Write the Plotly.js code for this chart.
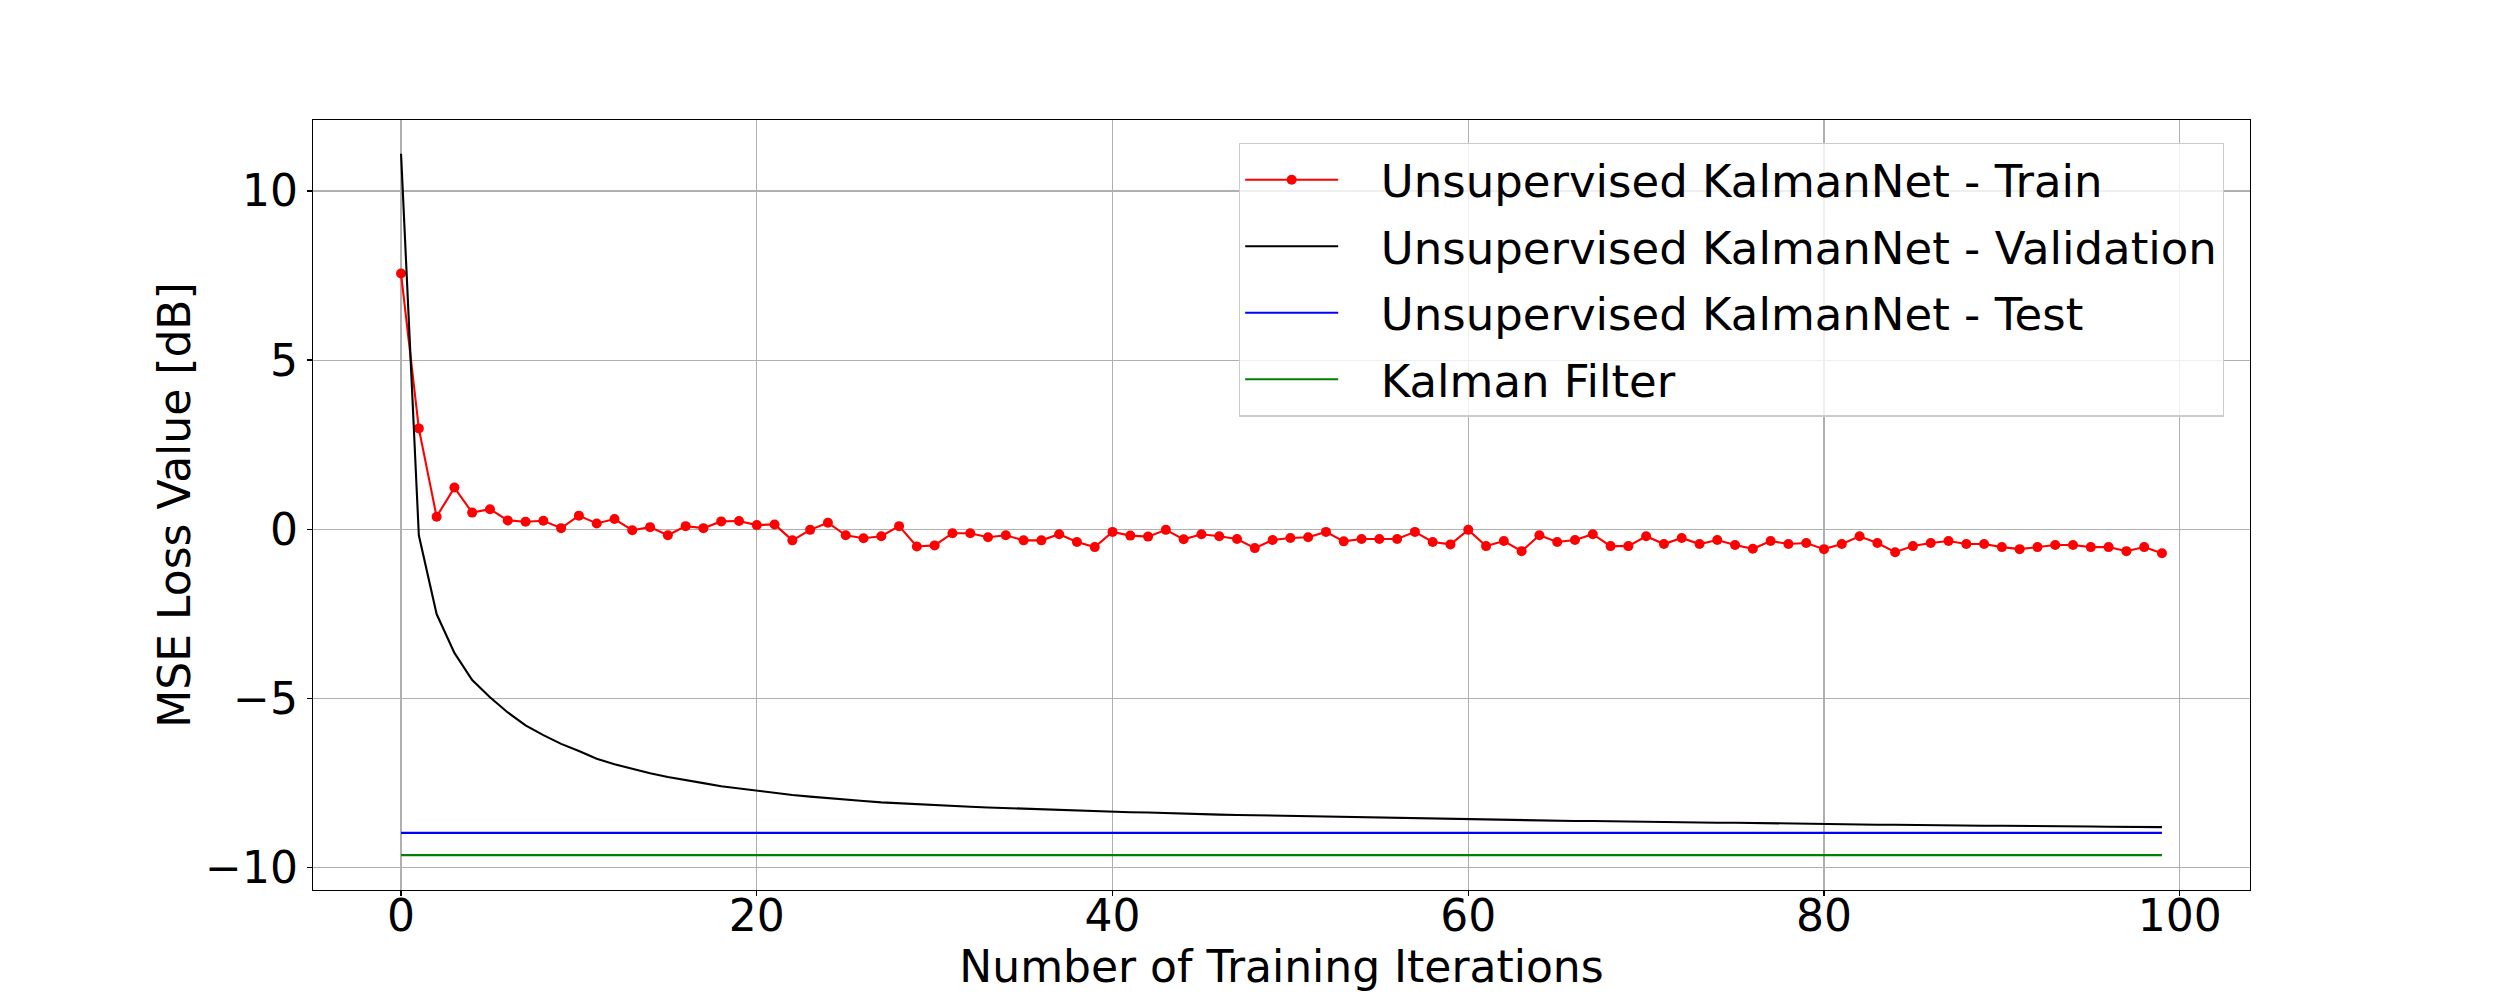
<!DOCTYPE html>
<html>
<head>
<meta charset="utf-8">
<script src="https://cdn.plot.ly/plotly-3.0.1.min.js"></script>
<style>
  html, body { margin: 0; padding: 0; background: #ffffff; }
  #chart { width: 2500px; height: 1000px; }
</style>
</head>
<body>
<div id="chart"></div>
<script>
// ---- data ----
const iterations = Array.from({length: 100}, (_, i) => i);

const trainLoss = [
  7.56, 2.98, 0.37, 1.23, 0.49, 0.59, 0.26, 0.22, 0.25, 0.03,
  0.40, 0.17, 0.30, -0.03, 0.06, -0.18, 0.09, 0.03, 0.23, 0.24,
  0.12, 0.14, -0.33, -0.02, 0.19, -0.18, -0.27, -0.21, 0.09, -0.51,
  -0.48, -0.12, -0.12, -0.24, -0.18, -0.33, -0.33, -0.15, -0.38, -0.53,
  -0.08, -0.19, -0.22, -0.02, -0.30, -0.15, -0.21, -0.29, -0.56, -0.32,
  -0.26, -0.24, -0.08, -0.36, -0.29, -0.29, -0.29, -0.08, -0.38, -0.45,
  -0.02, -0.50, -0.35, -0.65, -0.18, -0.38, -0.32, -0.15, -0.50, -0.50,
  -0.21, -0.44, -0.26, -0.44, -0.32, -0.47, -0.58, -0.35, -0.44, -0.41,
  -0.59, -0.44, -0.21, -0.41, -0.68, -0.50, -0.41, -0.35, -0.44, -0.44,
  -0.53, -0.59, -0.53, -0.47, -0.47, -0.53, -0.53, -0.65, -0.53, -0.71
];

const validationLoss = [
  11.10, -0.18, -2.51, -3.66, -4.46, -4.97, -5.42, -5.80, -6.09, -6.35,
  -6.56, -6.79, -6.95, -7.09, -7.22, -7.33, -7.43, -7.51, -7.60, -7.67,
  -7.74, -7.80, -7.86, -7.91, -7.96, -8.00, -8.04, -8.08, -8.11, -8.14,
  -8.16, -8.19, -8.21, -8.23, -8.25, -8.27, -8.29, -8.31, -8.32, -8.34,
  -8.35, -8.37, -8.38, -8.40, -8.41, -8.43, -8.44, -8.45, -8.46, -8.48,
  -8.49, -8.50, -8.51, -8.51, -8.52, -8.53, -8.54, -8.55, -8.56, -8.56,
  -8.57, -8.58, -8.59, -8.60, -8.61, -8.62, -8.63, -8.63, -8.64, -8.64,
  -8.65, -8.66, -8.66, -8.67, -8.68, -8.68, -8.69, -8.70, -8.70, -8.71,
  -8.72, -8.72, -8.73, -8.74, -8.74, -8.75, -8.75, -8.76, -8.76, -8.77,
  -8.77, -8.77, -8.78, -8.78, -8.79, -8.79, -8.80, -8.80, -8.80, -8.81
];

const testLoss = -8.98;          // constant level of the test curve
const kalmanFilterLoss = -9.64;  // constant level of the Kalman filter

const seriesNames = [
  'Unsupervised KalmanNet - Train',
  'Unsupervised KalmanNet - Validation',
  'Unsupervised KalmanNet - Test',
  'Kalman Filter'
];

const xTickVals = [0, 20, 40, 60, 80, 100];
const yTickVals = [-10, -5, 0, 5, 10];

// ---- chart ----
const FONT = 'DejaVu Sans, Liberation Sans, sans-serif';
const GAP = '\u00a0\u00a0\u2009';   // gap between legend line and label

const traces = [
  {
    x: iterations, y: trainLoss, name: GAP + seriesNames[0], legendgroup: 'g0',
    type: 'scatter', mode: 'lines+markers',
    line: {color: '#ff0000', width: 2.1},
    marker: {color: '#ff0000', size: 10}
  },
  {
    x: iterations, y: validationLoss, name: GAP + seriesNames[1], legendgroup: 'g1',
    type: 'scatter', mode: 'lines',
    line: {color: '#000000', width: 2.1}
  },
  {
    x: iterations, y: iterations.map(() => testLoss), name: GAP + seriesNames[2], legendgroup: 'g2',
    type: 'scatter', mode: 'lines',
    line: {color: '#0000ff', width: 2.1}
  },
  {
    x: iterations, y: iterations.map(() => kalmanFilterLoss), name: GAP + seriesNames[3], legendgroup: 'g3',
    type: 'scatter', mode: 'lines',
    line: {color: '#008000', width: 2.1}
  }
];

const axisCommon = {
  showgrid: true, gridcolor: '#b0b0b0', gridwidth: 1.1,
  zeroline: false,
  showline: true, mirror: true, linecolor: '#000000', linewidth: 1.3,
  ticks: 'outside', ticklen: 5, tickwidth: 1.3, tickcolor: '#000000',
  tickfont: {family: FONT, size: 44, color: '#000000'}
};

const layout = {
  width: 2500, height: 1000,
  paper_bgcolor: '#ffffff', plot_bgcolor: '#ffffff',
  margin: {l: 313, r: 250, t: 120, b: 110, pad: 0},
  font: {family: FONT, size: 44, color: '#000000'},
  showlegend: true,
  xaxis: Object.assign({}, axisCommon, {
    range: [-4.95, 103.95],
    tickvals: xTickVals,
    ticktext: xTickVals.map(String),
    ticklabelstandoff: -18,
    title: {text: 'Number of Training Iterations', font: {family: FONT, size: 44, color: '#000000'}, standoff: 10},
    automargin: false
  }),
  yaxis: Object.assign({}, axisCommon, {
    range: [-10.67, 12.1],
    tickvals: yTickVals,
    ticktext: yTickVals.map(v => v < 0 ? '\u2212' + Math.abs(v) : String(v)),
    title: {text: 'MSE Loss Value [dB]', font: {family: FONT, size: 44, color: '#000000'}, standoff: 0},
    automargin: false
  }),
  legend: {
    x: 0.478, y: 0.9705, xanchor: 'left', yanchor: 'top',
    bgcolor: 'rgba(255,255,255,0.8)', bordercolor: '#cccccc', borderwidth: 1.3,
    font: {family: FONT, size: 45, color: '#000000'},
    itemwidth: 93, tracegroupgap: 5, traceorder: 'grouped'
  }
};

Plotly.newPlot('chart', traces, layout, {displayModeBar: false, staticPlot: true});
</script>
</body>
</html>
